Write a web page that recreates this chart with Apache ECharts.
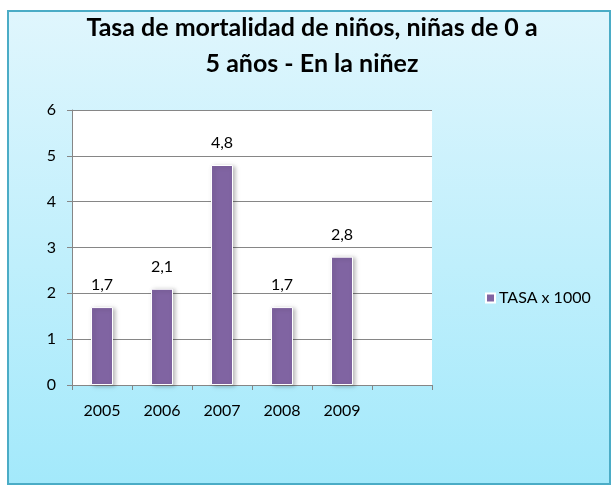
<!DOCTYPE html>
<html><head><meta charset="utf-8">
<script src="https://cdn.jsdelivr.net/npm/echarts@6/dist/echarts.min.js"></script>
<style>html,body{margin:0;padding:0;background:#fff}#c{width:614px;height:489px}</style>
</head><body><div id="c"></div>
<script>
const categories = ['2005','2006','2007','2008','2009',''];
const values = [1.7, 2.1, 4.8, 1.7, 2.8, null];
const yTicks = [0,1,2,3,4,5,6];
const seriesName = 'TASA x 1000';
const titleText = 'Tasa de mortalidad de niños, niñas de 0 a\n5 años - En la niñez';

const font = 'Lato, "Open Sans", sans-serif';
const chart = echarts.init(document.getElementById('c'));
chart.setOption({
  animation: false,
  backgroundColor: '#fff',
  graphic: [{
    type: 'rect', z: -10, silent: true,
    shape: {x: 8, y: 11, width: 602, height: 473},
    style: {
      fill: new echarts.graphic.LinearGradient(0,0,0,1,[{offset:0,color:'#e0f6fd'},{offset:1,color:'#a3e9fb'}]),
      stroke: '#4bacc6', lineWidth: 2
    }
  }],
  title: {
    text: titleText, left: 307, top: 5, textAlign: 'center',
    textStyle: {fontFamily: font, fontWeight: 'bold', fontSize: 25, color: '#000', lineHeight: 36}
  },
  legend: {
    data: [seriesName], orient: 'vertical', left: 480, top: 285,
    itemWidth: 9, itemHeight: 9, icon: 'rect',
    textStyle: {fontFamily: font, fontSize: 16, color: '#000', padding: [0,0,0,-1]}
  },
  grid: {left: 72, right: 182, top: 110, bottom: 104, show: true, backgroundColor: '#fff', borderWidth: 0},
  xAxis: {
    type: 'category', data: categories,
    axisLine: {lineStyle: {color: '#868686'}},
    axisTick: {show: true, length: 5, lineStyle: {color: '#868686'}},
    axisLabel: {fontFamily: font, fontSize: 16, color: '#000', margin: 18}
  },
  yAxis: {
    type: 'value', min: yTicks[0], max: yTicks[yTicks.length-1], interval: 1,
    axisLine: {show: true, lineStyle: {color: '#868686'}},
    axisTick: {show: true, length: 5, lineStyle: {color: '#868686'}},
    splitLine: {lineStyle: {color: '#868686'}},
    axisLabel: {fontFamily: font, fontSize: 16, color: '#000', margin: 16}
  },
  series: [{
    name: seriesName, type: 'bar', data: values, barWidth: 22,
    itemStyle: {color: '#8064a2', borderColor: '#fff', borderWidth: 1,
      shadowColor: 'rgba(0,0,0,0.25)', shadowBlur: 4, shadowOffsetX: 2, shadowOffsetY: 1},
    label: {show: true, position: 'top', distance: 14, fontFamily: font, fontSize: 16, color: '#000',
      formatter: p => String(p.value).replace('.', ',')}
  }]
});
</script></body></html>
